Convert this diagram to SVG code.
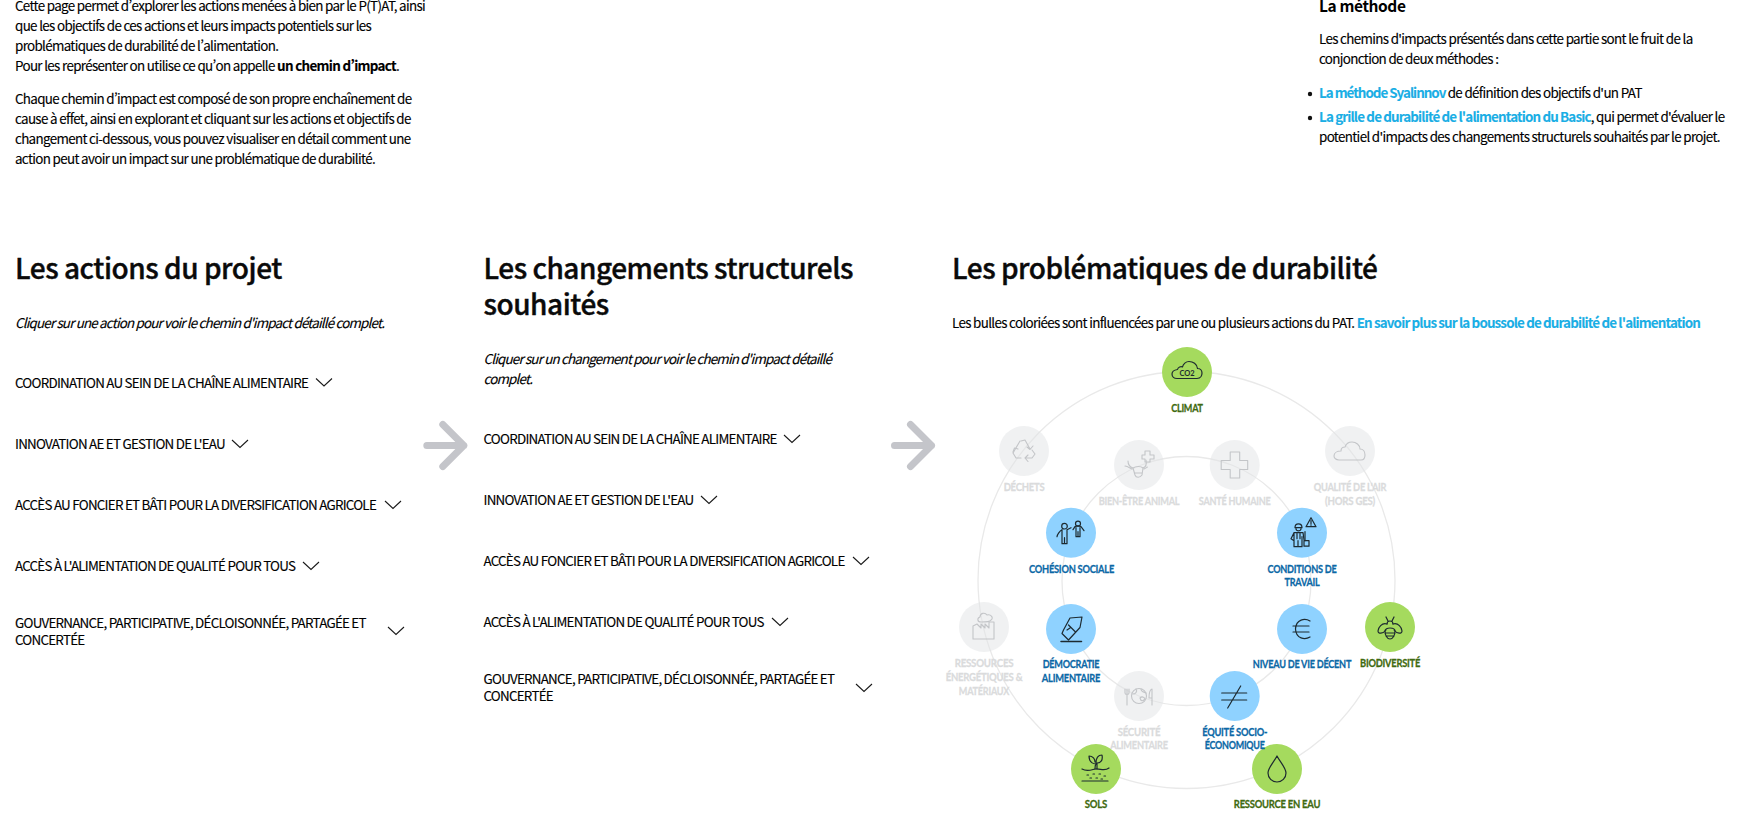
<svg xmlns="http://www.w3.org/2000/svg" width="1752" height="832" viewBox="0 0 1752 832">
<style>
text{font-family:"Noto Sans CJK SC","Noto Sans CJK JP","Noto Sans",sans-serif;fill:#000;font-variant-east-asian:proportional-width;font-feature-settings:"pwid"}
.b{font-size:13.4px;letter-spacing:-.67px;stroke:#000;stroke-width:.12px}
.s{font-weight:700}
.l{fill:#1aaee5;stroke:#1aaee5;stroke-width:.1px;font-weight:700;letter-spacing:-.85px}
.h{font-size:28px;font-weight:500;letter-spacing:-.47px;fill:#0a0a0a;stroke:#0a0a0a;stroke-width:.4px}
.i{font-size:13.4px;font-style:italic;letter-spacing:-.83px;stroke:#000;stroke-width:.12px}
.t{font-size:13.4px;letter-spacing:-.76px;stroke:#000;stroke-width:.12px}
.lab{font-family:Lato,"Liberation Sans",sans-serif;font-size:12px;font-weight:700;letter-spacing:-.3px;text-anchor:middle;stroke-width:.3px}
.lg text{fill:#dadbdc;stroke:#dadbdc}.lb text{fill:#0b68a6;stroke:#0b68a6}.lv text{fill:#3f6a10;stroke:#3f6a10}
.gc{fill:#e1e3e5;opacity:.5}.bc{fill:#8fd2ff}.vc{fill:#a5da5e}
.ring{fill:none;stroke:#e9e9e9;stroke-width:1.3}
.ig{fill:none;stroke:#c3c5c8;stroke-width:1.1;stroke-linejoin:round;stroke-linecap:round}
.ik{fill:none;stroke:#1d2a30;stroke-width:1.2;stroke-linejoin:round;stroke-linecap:round}
.chev{fill:none;stroke:#1a1a1a;stroke-width:1.1}
.arrow{fill:none;stroke:#c4c5ca;stroke-width:7;stroke-linecap:round;stroke-linejoin:round}
</style>
<defs>
<path id="chev" class="chev" d="M-8,-4 L0,3.500 L8,-4"/>
<g id="arrow"><path class="arrow" d="M0,0 H37 M16,-21 L37,0 L16,21"/></g>
</defs>

<g id="intro">
<text class="b" x="15" y="11">Cette page permet d’explorer les actions menées à bien par le P(T)AT, ainsi</text>
<text class="b" x="15" y="31">que les objectifs de ces actions et leurs impacts potentiels sur les</text>
<text class="b" x="15" y="51">problématiques de durabilité de l’alimentation.</text>
<text class="b" x="15" y="71">Pour les représenter on utilise ce qu’on appelle <tspan class="s">un chemin d’impact</tspan>.</text>
<text class="b" x="15" y="104">Chaque chemin d’impact est composé de son propre enchaînement de</text>
<text class="b" x="15" y="124">cause à effet, ainsi en explorant et cliquant sur les actions et objectifs de</text>
<text class="b" x="15" y="144">changement ci-dessous, vous pouvez visualiser en détail comment une</text>
<text class="b" x="15" y="164">action peut avoir un impact sur une problématique de durabilité.</text>
</g>

<g id="methode">
<text x="1319" y="12" style="font-size:15.500px;font-weight:700;letter-spacing:-.4px">La méthode</text>
<text class="b" x="1319" y="44">Les chemins d'impacts présentés dans cette partie sont le fruit de la</text>
<text class="b" x="1319" y="64">conjonction de deux méthodes :</text>
<circle cx="1310" cy="94" r="2.2" fill="#111"/>
<text class="b" x="1319" y="98"><tspan class="l" style="letter-spacing:-1px">La méthode Syalinnov</tspan> de définition des objectifs d'un PAT</text>
<circle cx="1310" cy="118" r="2.2" fill="#111"/>
<text class="b" x="1319" y="122"><tspan class="l">La grille de durabilité de l'alimentation du Basic</tspan>, qui permet d'évaluer le</text>
<text class="b" x="1319" y="142">potentiel d'impacts des changements structurels souhaités par le projet.</text>
</g>

<g id="col-actions">
<text class="h" x="15" y="279">Les actions du projet</text>
<text class="i" x="15" y="327.500">Cliquer sur une action pour voir le chemin d'impact détaillé complet.</text>
<g id="a1"><text class="t" x="15" y="387.500">COORDINATION AU SEIN DE LA CHAÎNE ALIMENTAIRE</text><use href="#chev" x="324" y="382.500"/></g>
<g id="a2"><text class="t" x="15" y="449">INNOVATION AE ET GESTION DE L'EAU</text><use href="#chev" x="240" y="444"/></g>
<g id="a3"><text class="t" x="15" y="510">ACCÈS AU FONCIER ET BÂTI POUR LA DIVERSIFICATION AGRICOLE</text><use href="#chev" x="393" y="505"/></g>
<g id="a4"><text class="t" x="15" y="571">ACCÈS À L'ALIMENTATION DE QUALITÉ POUR TOUS</text><use href="#chev" x="311" y="566"/></g>
<g id="a5"><text class="t" x="15" y="628">GOUVERNANCE, PARTICIPATIVE, DÉCLOISONNÉE, PARTAGÉE ET</text><text class="t" x="15" y="645">CONCERTÉE</text><use href="#chev" x="396" y="631"/></g>
</g>

<g id="col-changements">
<text class="h" x="483.500" y="279">Les changements structurels</text>
<text class="h" x="483.500" y="315">souhaités</text>
<text class="i" x="483.500" y="364">Cliquer sur un changement pour voir le chemin d'impact détaillé</text>
<text class="i" x="483.500" y="384">complet.</text>
<g id="c1"><text class="t" x="483.500" y="444">COORDINATION AU SEIN DE LA CHAÎNE ALIMENTAIRE</text><use href="#chev" x="792" y="439"/></g>
<g id="c2"><text class="t" x="483.500" y="505">INNOVATION AE ET GESTION DE L'EAU</text><use href="#chev" x="709" y="500"/></g>
<g id="c3"><text class="t" x="483.500" y="566">ACCÈS AU FONCIER ET BÂTI POUR LA DIVERSIFICATION AGRICOLE</text><use href="#chev" x="861" y="561"/></g>
<g id="c4"><text class="t" x="483.500" y="627">ACCÈS À L'ALIMENTATION DE QUALITÉ POUR TOUS</text><use href="#chev" x="780" y="622"/></g>
<g id="c5"><text class="t" x="483.500" y="684">GOUVERNANCE, PARTICIPATIVE, DÉCLOISONNÉE, PARTAGÉE ET</text><text class="t" x="483.500" y="701">CONCERTÉE</text><use href="#chev" x="864" y="688"/></g>
</g>

<g id="col-problematiques">
<text class="h" x="952" y="279">Les problématiques de durabilité</text>
<text class="b" x="952" y="327.500">Les bulles coloriées sont influencées par une ou plusieurs actions du PAT. <tspan class="l">En savoir plus sur la boussole de durabilité de l'alimentation</tspan></text>
</g>

<g id="connectors">
<use href="#arrow" x="426.800" y="445.500"/>
<use href="#arrow" x="894.500" y="445.500"/>
<circle class="ring" cx="1186.5" cy="580" r="208.5"/>
<circle class="ring" cx="1186.5" cy="581" r="124.5"/>
</g>

<g id="n-dechets" class="lg"><circle class="gc" cx="1024" cy="451" r="25"/>
<g transform="translate(1024 451)" class="ig"><path d="M-3,-10 L1,-11 L6,-2 M3,-4 L6,-1.5 L9,-5"/><path d="M-4,-10 L-11,2 L-8,7 L-3,7"/><path d="M-11,1 L-9.5,-3 L-6,-2"/><path d="M1,7 H8 L11,3 L8,-1 M4,4 L1,7 L4,10.5"/></g>
<text class="lab" x="1024" y="491" textLength="40.700" lengthAdjust="spacingAndGlyphs">DÉCHETS</text></g>

<g id="n-bienetre" class="lg"><circle class="gc" cx="1139" cy="465" r="25"/>
<g transform="translate(1139 465)" class="ig"><path d="M-11,-4 C-11,0 -9,2 -6,3 C-3,1 2,1 4,3 C7,2 8,0 7,-5 M-14,1 C-12,1 -9,3 -7,4 M5,4 C7,3 9,2 8,2 M-6,3 L-4,10 C-3,13 1,13 3,10 L4,3 M-4,8 H3"/><path d="M6,-14 H11 V-10 H15 V-6 H11 V-3 H6 V-6 H3 V-10 H6 Z"/></g>
<text class="lab" x="1139" y="505" textLength="80.700" lengthAdjust="spacingAndGlyphs">BIEN-ÊTRE ANIMAL</text></g>

<g id="n-sante" class="lg"><circle class="gc" cx="1234.7" cy="465" r="25"/>
<g transform="translate(1234.7 465)" class="ig"><path d="M-4.5,-13 H5 V-4.5 H13 V4.5 H5 V13 H-4.5 V4.5 H-13.5 V-4.5 H-4.5 Z"/></g>
<text class="lab" x="1234.7" y="505" textLength="71.700" lengthAdjust="spacingAndGlyphs">SANTÉ HUMAINE</text></g>

<g id="n-air" class="lg"><circle class="gc" cx="1350" cy="451" r="25"/>
<g transform="translate(1350 451)" class="ig"><path d="M-11,9 H11 C14,9 15,7 15,4 C15,0 13,-2 10,-2 C10,-6 6,-9 2,-9 C-1,-9 -4,-7 -5,-4 C-8,-4 -9,-2 -9,0 C-13,0 -16,2 -16,5 C-16,7 -14,9 -11,9 Z"/></g>
<text class="lab" x="1350" y="491" textLength="72.700" lengthAdjust="spacingAndGlyphs">QUALITÉ DE L'AIR</text><text class="lab" x="1350" y="504.500" textLength="50" lengthAdjust="spacingAndGlyphs">(HORS GES)</text></g>

<g id="n-ressources" class="lg"><circle class="gc" cx="984" cy="627" r="25"/>
<g transform="translate(984 627)" class="ig"><path d="M-11,-1 V12 H10 V-5 H5 V1 L1,-3 V1 L-3,-3 V1 L-7,-3 Z"/><path d="M-3,-5 C-7,-5 -7,-9 -4,-10 C-4,-14 1,-15 3,-12 C7,-13 10,-9 7,-7 C6,-5 3,-5 -3,-5 Z"/></g>
<text class="lab" x="984" y="666.500" textLength="58.700" lengthAdjust="spacingAndGlyphs">RESSOURCES</text><text class="lab" x="984" y="680.500" textLength="76.700" lengthAdjust="spacingAndGlyphs">ÉNERGÉTIQUES &amp;</text><text class="lab" x="984" y="694.500" textLength="50.300" lengthAdjust="spacingAndGlyphs">MATÉRIAUX</text></g>

<g id="n-securite" class="lg"><circle class="gc" cx="1139" cy="696" r="25"/>
<g transform="translate(1139 696)" class="ig"><circle r="7.500" cx="0" cy="0"/><path d="M-3,-7 C-1,-4 -4,-2 -6,-2 M1,2 C3,0 5,1 6,3 C4,5 2,6 1,2 Z M2,-7 C2,-4 5,-4 7,-3"/><path d="M-12,-7 V-2 M-14,-7 V-3 C-14,-1 -10,-1 -10,-3 V-7 M-12,-1 V9"/><path d="M13,9 V-7 C10,-6 10,-1 10,2 L13,2"/></g>
<text class="lab" x="1139" y="735.500" textLength="42.700" lengthAdjust="spacingAndGlyphs">SÉCURITÉ</text><text class="lab" x="1139" y="749" textLength="57.700" lengthAdjust="spacingAndGlyphs">ALIMENTAIRE</text></g>

<g id="n-climat" class="lv"><circle class="vc" cx="1187" cy="372" r="25"/>
<g transform="translate(1187 372)"><path class="ik" d="M-10,6.500 H10 C14,6.500 15,3 15,1 C15,-2 13,-3.500 10.500,-3.500 C10,-8 6,-10.500 2,-10.500 C-1,-10.500 -4,-8 -4.500,-5 C-6,-6 -9,-5 -9.500,-2.500 C-13,-2 -15,0 -15,2 C-15,5 -13,6.500 -10,6.500 Z"/><text x="0" y="3.500" text-anchor="middle" style="font-family:Lato,sans-serif;font-size:7.500px;font-weight:700;fill:#1d2a30;stroke:none">CO2</text></g>
<text class="lab" x="1187" y="411.500" textLength="31.700" lengthAdjust="spacingAndGlyphs">CLIMAT</text></g>

<g id="n-biodiversite" class="lv"><circle class="vc" cx="1390" cy="627" r="25"/>
<g transform="translate(1390 627)" class="ik"><path d="M-4,-10 L-2,-6 M4,-10 L2,-6"/><path d="M-3,-3 C-3,-7 3,-7 3,-3 M-5,4 C-5,0 5,0 5,4 C5,8 3,12 0,12 C-3,12 -5,8 -5,4 Z M-5,6 H5 M-4,9 H4"/><path d="M-3,-3 C-8,-5 -12,1 -12,4 C-12,7 -7,7 -4,3 M3,-3 C8,-5 12,1 12,4 C12,7 7,7 4,3"/></g>
<text class="lab" x="1390" y="666.500" textLength="60" lengthAdjust="spacingAndGlyphs">BIODIVERSITÉ</text></g>

<g id="n-sols" class="lv"><circle class="vc" cx="1096" cy="769" r="25"/>
<g transform="translate(1096 769)" class="ik"><path d="M-1,0 C-1,-2 -1,-4 0,-5 C-2,-5 -7,-6 -7,-13 C-3,-13 -1,-10 -1,-7 M1,0 V-6 C5,-6 7,-9 6,-14 C2,-14 0,-11 0,-6"/><path d="M-14,0 C-9,3 -5,1 -1,0 C4,-1 8,3 13,-1 M-14,12 H12"/><path d="M-9,6 H-7 M-3,5 H-1 M3,5 H5 M8,7 H10 M-6,9 H-4 M0,9 H2 M5,10 H7" stroke-dasharray="1.500 1"/></g>
<text class="lab" x="1096" y="807.500" textLength="22.300" lengthAdjust="spacingAndGlyphs">SOLS</text></g>

<g id="n-eau" class="lv"><circle class="vc" cx="1277" cy="769" r="25"/>
<g transform="translate(1277 769)" class="ik"><path d="M0,-13 C3,-7 9,-1 9,4 A9,9 0 0 1 -9,4 C-9,-1 -3,-7 0,-13 Z"/></g>
<text class="lab" x="1277" y="807.500" textLength="86.300" lengthAdjust="spacingAndGlyphs">RESSOURCE EN EAU</text></g>

<g id="n-cohesion" class="lb"><circle class="bc" cx="1071" cy="532.700" r="25"/>
<g transform="translate(1071 532.700)" class="ik"><circle cx="-6.500" cy="-6.500" r="2.800"/><path d="M-9,-3 C-11,-2 -14,2 -14,4 M-4,-3 L0,-5 M-9,-3 V4 M-4,-3 V4 M-9,3 V11 H-6.500 V5 M-4,3 V11 H-6.500"/><circle cx="7" cy="-9" r="2.500"/><path d="M4,-6 C5,-7 9,-7 10,-6 L13,-2 M4,-6 L2,-3 M5,-5 V4 H9 V-5 M7,-1 V4"/></g>
<text class="lab" x="1071.500" y="572.500" textLength="85" lengthAdjust="spacingAndGlyphs">COHÉSION SOCIALE</text></g>

<g id="n-conditions" class="lb"><circle class="bc" cx="1302" cy="532.700" r="25"/>
<g transform="translate(1302 532.700)" class="ik"><path d="M-7,-5 C-7,-10 0,-10 0,-5 Z M-6,-4 C-6,-1 -1,-1 -1,-4"/><path d="M-8,0 H1 L2,7 M-8,0 L-11,6 L-8,8 M-8,0 V14 H-4 V8 V14 H0 V4 M-5,1 V6 M-2,1 V6"/><rect x="2" y="8" width="5" height="5.500"/><path d="M3,-1 V8"/><path d="M9,-15 L14,-6 H4 Z M9,-12 V-9 M9,-7.800 V-7.500"/></g>
<text class="lab" x="1302" y="572.500" textLength="69" lengthAdjust="spacingAndGlyphs">CONDITIONS DE</text><text class="lab" x="1302" y="586" textLength="35" lengthAdjust="spacingAndGlyphs">TRAVAIL</text></g>

<g id="n-democratie" class="lb"><circle class="bc" cx="1071" cy="629" r="25"/>
<g transform="translate(1071 629)" class="ik"><path d="M-10,12.500 H10.500" stroke-width="1.500"/><path d="M11,-12 L-1,-11 L-7.500,1 L-9,4.500 L-2.500,11 L3.500,4.500 L9,-1.500 Z M-2.500,-4 L4,2.500 M-4,1 L-1,-1"/></g>
<text class="lab" x="1071" y="667.500" textLength="56.700" lengthAdjust="spacingAndGlyphs">DÉMOCRATIE</text><text class="lab" x="1071" y="681.500" textLength="58.300" lengthAdjust="spacingAndGlyphs">ALIMENTAIRE</text></g>

<g id="n-niveau" class="lb"><circle class="bc" cx="1302" cy="629" r="25"/>
<g transform="translate(1302 629)" class="ik"><path d="M8,-8 C3,-11 -6,-10 -6.500,0 C-6,10 3,11 8,8 M-9,-3 H7 M-9,3 H7"/></g>
<text class="lab" x="1302" y="667.500" textLength="98.300" lengthAdjust="spacingAndGlyphs">NIVEAU DE VIE DÉCENT</text></g>

<g id="n-equite" class="lb"><circle class="bc" cx="1234.700" cy="696" r="25"/>
<g transform="translate(1234.700 696)" class="ik"><path d="M-13,-3 H12 M-13,4 H12 M6,-10 L-7,12"/></g>
<text class="lab" x="1234.700" y="735.500" textLength="65" lengthAdjust="spacingAndGlyphs">ÉQUITÉ SOCIO-</text><text class="lab" x="1234.700" y="749" textLength="60" lengthAdjust="spacingAndGlyphs">ÉCONOMIQUE</text></g>
</svg>
